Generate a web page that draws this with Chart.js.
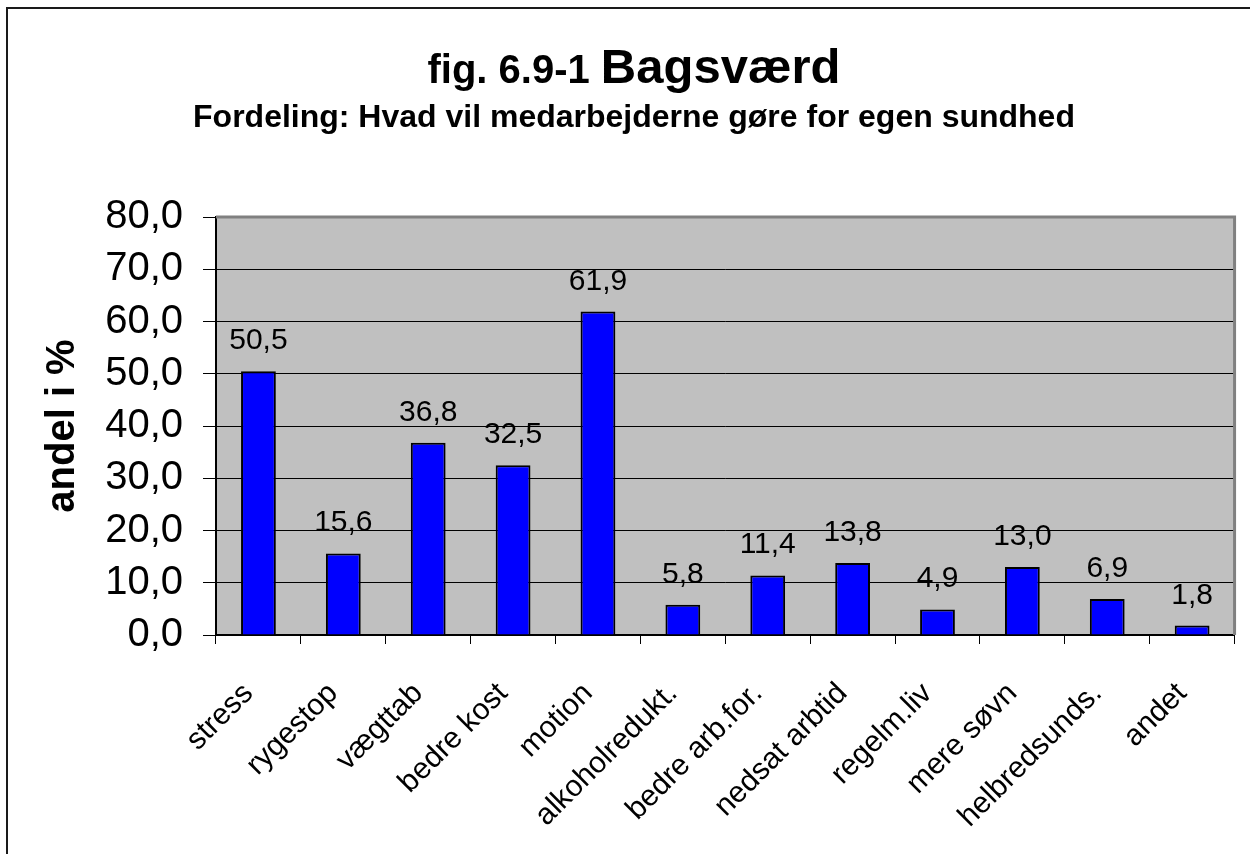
<!DOCTYPE html>
<html>
<head>
<meta charset="utf-8">
<title>fig. 6.9-1 Bagsværd</title>
<script src="https://cdn.jsdelivr.net/npm/chart.js@4"></script>
<style>
    body { margin: 0; background: #ffffff; }
    #wrap { width: 1250px; height: 854px; }
</style>
</head>
<body>
<div id="wrap"><canvas id="chart" width="1250" height="854"></canvas></div>
<script>
var categories = ["stress", "rygestop", "vægttab", "bedre kost", "motion", "alkoholredukt.",
    "bedre arb.for.", "nedsat arbtid", "regelm.liv", "mere søvn", "helbredsunds.", "andet"];
var andel = [50.5, 15.6, 36.8, 32.5, 61.9, 5.8, 11.4, 13.8, 4.9, 13.0, 6.9, 1.8];
var yMin = 0;
var yMax = 80;
var yStep = 10;

var titleSmall = "fig. 6.9-1 ";
var titleBig = "Bagsværd";
var subtitle = "Fordeling: Hvad vil medarbejderne gøre for egen sundhed";
var yTitle = "andel i %";

var FONT = "'Liberation Sans', Arial, Helvetica, sans-serif";

function komma(v) {
    return Number(v).toFixed(1).replace(".", ",");
}

// white page, frame, grey plot area
var backdrop = {
    id: "backdrop",
    beforeDraw: function (chart) {
        let ctx = chart.ctx;
        let a = chart.chartArea;
        ctx.save();
        ctx.fillStyle = "#ffffff";
        ctx.fillRect(0, 0, chart.width, chart.height);
        ctx.strokeStyle = "#1a1a1a";
        ctx.lineWidth = 2;
        ctx.strokeRect(7, 8, chart.width + 20, chart.height + 20);
        ctx.fillStyle = "#c0c0c0";
        ctx.fillRect(a.left, a.top, a.right - a.left, a.bottom - a.top);
        ctx.restore();
    },
    beforeDatasetsDraw: function (chart) {
        let ctx = chart.ctx;
        let a = chart.chartArea;
        ctx.save();
        ctx.strokeStyle = "#808080";
        ctx.lineWidth = 3;
        ctx.beginPath();
        ctx.moveTo(a.left, a.top);
        ctx.lineTo(a.right, a.top);
        ctx.lineTo(a.right, a.bottom);
        ctx.stroke();
        ctx.restore();
    }
};

// two-size heading and subtitle
var heading = {
    id: "heading",
    afterDraw: function (chart) {
        let ctx = chart.ctx;
        let cx = 634;
        ctx.save();
        ctx.fillStyle = "#000000";
        ctx.textBaseline = "alphabetic";
        ctx.textAlign = "left";
        ctx.font = "bold 40px " + FONT;
        let w1 = ctx.measureText(titleSmall).width;
        ctx.font = "bold 49px " + FONT;
        let w2 = ctx.measureText(titleBig).width;
        let x0 = cx - (w1 + w2) / 2;
        ctx.font = "bold 40px " + FONT;
        ctx.fillText(titleSmall, x0, 83);
        ctx.font = "bold 49px " + FONT;
        ctx.fillText(titleBig, x0 + w1, 83);
        ctx.textAlign = "center";
        ctx.font = "bold 32px " + FONT;
        ctx.fillText(subtitle, cx, 127);
        ctx.restore();
    }
};

// value above each bar
var barValues = {
    id: "barValues",
    afterDatasetsDraw: function (chart) {
        let ctx = chart.ctx;
        let meta = chart.getDatasetMeta(0);
        let values = chart.data.datasets[0].data;
        ctx.save();
        ctx.fillStyle = "#000000";
        ctx.font = "30px " + FONT;
        ctx.textAlign = "center";
        ctx.textBaseline = "alphabetic";
        meta.data.forEach(function (bar, i) {
            ctx.fillText(komma(values[i]), bar.x, bar.y - 22);
        });
        ctx.restore();
    }
};

new Chart(document.getElementById("chart"), {
    type: "bar",
    data: {
        labels: categories,
        datasets: [
            {
                data: andel,
                backgroundColor: "#0000ff",
                borderColor: "#000000",
                borderWidth: 2,
                barPercentage: 0.41,
                categoryPercentage: 1.0
            }
        ]
    },
    options: {
        responsive: false,
        animation: false,
        events: [],
        layout: {
            padding: { top: 217, right: 10, bottom: 0, left: 0 }
        },
        plugins: {
            legend: { display: false },
            title: { display: false },
            tooltip: { enabled: false }
        },
        scales: {
            x: {
                grid: {
                    offset: true,
                    drawOnChartArea: false,
                    color: "#000000",
                    tickLength: 9,
                    tickWidth: 1
                },
                border: { color: "#000000", width: 2 },
                ticks: {
                    color: "#000000",
                    font: { family: FONT, size: 30 },
                    minRotation: 45,
                    maxRotation: 45,
                    autoSkip: false,
                    padding: 32,
                    labelOffset: -10
                },
                afterFit: function (scale) {
                    scale.height = 219;
                }
            },
            y: {
                min: yMin,
                max: yMax,
                grid: {
                    color: "#000000",
                    lineWidth: 1,
                    tickLength: 13
                },
                border: { color: "#000000", width: 2 },
                ticks: {
                    stepSize: yStep,
                    color: "#000000",
                    font: { family: FONT, size: 40 },
                    padding: 20,
                    callback: function (value) {
                        return komma(value);
                    }
                },
                title: {
                    display: true,
                    text: yTitle,
                    color: "#000000",
                    font: { family: FONT, size: 40, weight: "bold", lineHeight: 1.2 },
                    padding: { top: 39, bottom: 0 }
                },
                afterFit: function (scale) {
                    scale.width = 216;
                }
            }
        }
    },
    plugins: [backdrop, heading, barValues]
});
</script>
</body>
</html>
